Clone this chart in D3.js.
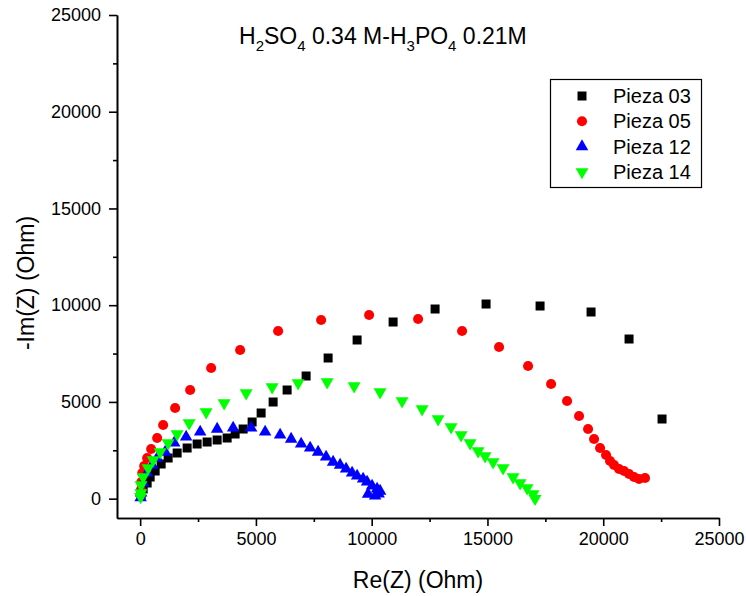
<!DOCTYPE html>
<html><head><meta charset="utf-8">
<script src="https://cdn.jsdelivr.net/npm/d3@7"></script>
<style>
body{margin:0;background:#fff;}
text{font-family:"Liberation Sans",Arial,sans-serif;fill:#000;}
</style></head>
<body><svg id="c" width="746" height="596"></svg>
<script>
const seriesNames = ["Pieza 03","Pieza 05","Pieza 12","Pieza 14"];
const seriesColors = ["#000000","#ff0000","#0000ff","#00ff00"];
const tickValues = [0,5000,10000,15000,20000,25000];
const minorTicks = [2500,7500,12500,17500,22500];

const pieza03 = [[43,189],[130,499],[302,809],[432,1119],[648,1429],[907,1791],[1209,2101],[1598,2360],[2029,2618],[2461,2825],[2893,2928],[3325,3032],[3757,3135],[4102,3342],[4448,3600],[4836,3962],[5225,4427],[5743,4996],[6347,5616],[7168,6340],[8118,7270],[9370,8201],[10925,9131],[12738,9803],[14940,10061],[17272,9958],[19474,9648],[21115,8252],[22540,4117]];
const pieza05 = [[30,450],[50,861],[90,1326],[173,1688],[302,2101],[475,2566],[734,3135],[993,3807],[1511,4686],[2159,5616],[3066,6753],[4318,7684],[5959,8666],[7816,9234],[9888,9493],[12004,9286],[13904,8666],[15502,7839],[16754,6857],[17748,5926],[18438,5048],[18956,4272],[19345,3600],[19604,3083],[19863,2618],[20122,2256],[20295,1946],[20467,1739],[20683,1533],[20899,1429],[21115,1274],[21331,1119],[21547,1016],[21806,1067]];
const pieza12 = [[20,50],[40,292],[130,809],[302,1326],[518,1739],[734,2101],[1080,2411],[1468,2877],[1986,3187],[2591,3445],[3325,3600],[4016,3652],[4793,3652],[5398,3445],[6045,3290],[6520,3083],[6952,2825],[7341,2618],[7686,2411],[8031,2153],[8334,1894],[8636,1739],[8895,1533],[9154,1326],[9370,1171],[9629,1016],[9802,861],[10018,654],[10234,499],[10363,395],[10147,137],[9845,240],[10300,250]];
const pieza14 = [[20,100],[30,292],[40,706],[130,1119],[345,1584],[561,2001],[864,2411],[1209,2877],[1598,3342],[2116,3910],[2850,4479],[3627,4944],[4577,5461],[5700,5771],[6822,5978],[8075,6030],[9241,5823],[10363,5513],[11313,5048],[12177,4634],[12868,4117],[13429,3704],[13861,3290],[14249,2877],[14595,2463],[14897,2205],[15243,1894],[15675,1584],[16106,1119],[16409,809],[16711,550],[16970,240],[17056,0]];
const allSeries = [pieza03,pieza05,pieza12,pieza14];

const svg = d3.select("#c");
const x = d3.scaleLinear().domain([-1000,25000]).range([117,719]);
const y = d3.scaleLinear().domain([-1000,25000]).range([518,15]);

const gxm = svg.append("g").attr("transform","translate(0,518)")
  .call(d3.axisBottom(x).tickValues(minorTicks).tickSize(4).tickFormat("").tickSizeOuter(0));
const gym = svg.append("g").attr("transform","translate(117,0)")
  .call(d3.axisLeft(y).tickValues(minorTicks).tickSize(4).tickFormat("").tickSizeOuter(0));
const gx = svg.append("g").attr("transform","translate(0,518)")
  .call(d3.axisBottom(x).tickValues(tickValues).tickSize(8).tickPadding(6).tickFormat(d3.format("d")).tickSizeOuter(0));
const gy = svg.append("g").attr("transform","translate(117,0)")
  .call(d3.axisLeft(y).tickValues(tickValues).tickSize(8).tickPadding(8).tickFormat(d3.format("d")).tickSizeOuter(0));
[gxm,gym,gx,gy].forEach(g=>{
  g.selectAll("path,line").attr("stroke","#000").attr("stroke-width",1.6);
  g.selectAll("text").attr("font-size",18).attr("font-family","Liberation Sans, Arial, sans-serif").attr("fill","#000");
});

svg.append("text").attr("x",418).attr("y",588).attr("text-anchor","middle").attr("font-size",23).text("Re(Z) (Ohm)");
svg.append("text").attr("transform","translate(34,283) rotate(-90)").attr("text-anchor","middle").attr("font-size",23).text("-Im(Z) (Ohm)");

const t = svg.append("text").attr("x",239).attr("y",44).attr("font-size",23);
const parts = [["H",0],["2",1],["SO",0],["4",1],[" 0.34 M-H",0],["3",1],["PO",0],["4",1],[" 0.21M",0]];
let off = 0;
parts.forEach(([s,sub])=>{
  const target = sub ? 7 : 0;
  t.append("tspan").attr("font-size",sub?15:23).attr("dy",target-off).text(s);
  off = target;
});

const symbols = [
  d3.symbol().type(d3.symbolSquare).size(81),
  d3.symbol().type(d3.symbolCircle).size(80),
  d3.symbol().type(d3.symbolTriangle).size(68),
  d3.symbol().type(d3.symbolTriangle).size(72)
];
const rot = [0,0,0,180];

allSeries.forEach((data,i)=>{
  svg.append("g").selectAll("path").data(data).join("path")
    .attr("d",symbols[i]())
    .attr("transform",d=>`translate(${x(d[0])},${y(d[1])}) rotate(${rot[i]})`)
    .attr("fill",seriesColors[i]);
});

const lg = svg.append("g");
lg.append("rect").attr("x",550.5).attr("y",79.5).attr("width",151).attr("height",108)
  .attr("fill","#fff").attr("stroke","#000").attr("stroke-width",1.2);
seriesNames.forEach((n,i)=>{
  const yy = 96 + i*25.3;
  lg.append("path").attr("d",symbols[i]()).attr("transform",`translate(582,${yy}) rotate(${rot[i]})`).attr("fill",seriesColors[i]);
  lg.append("text").attr("x",613).attr("y",yy+7).attr("font-size",20).text(n);
});
</script></body></html>
